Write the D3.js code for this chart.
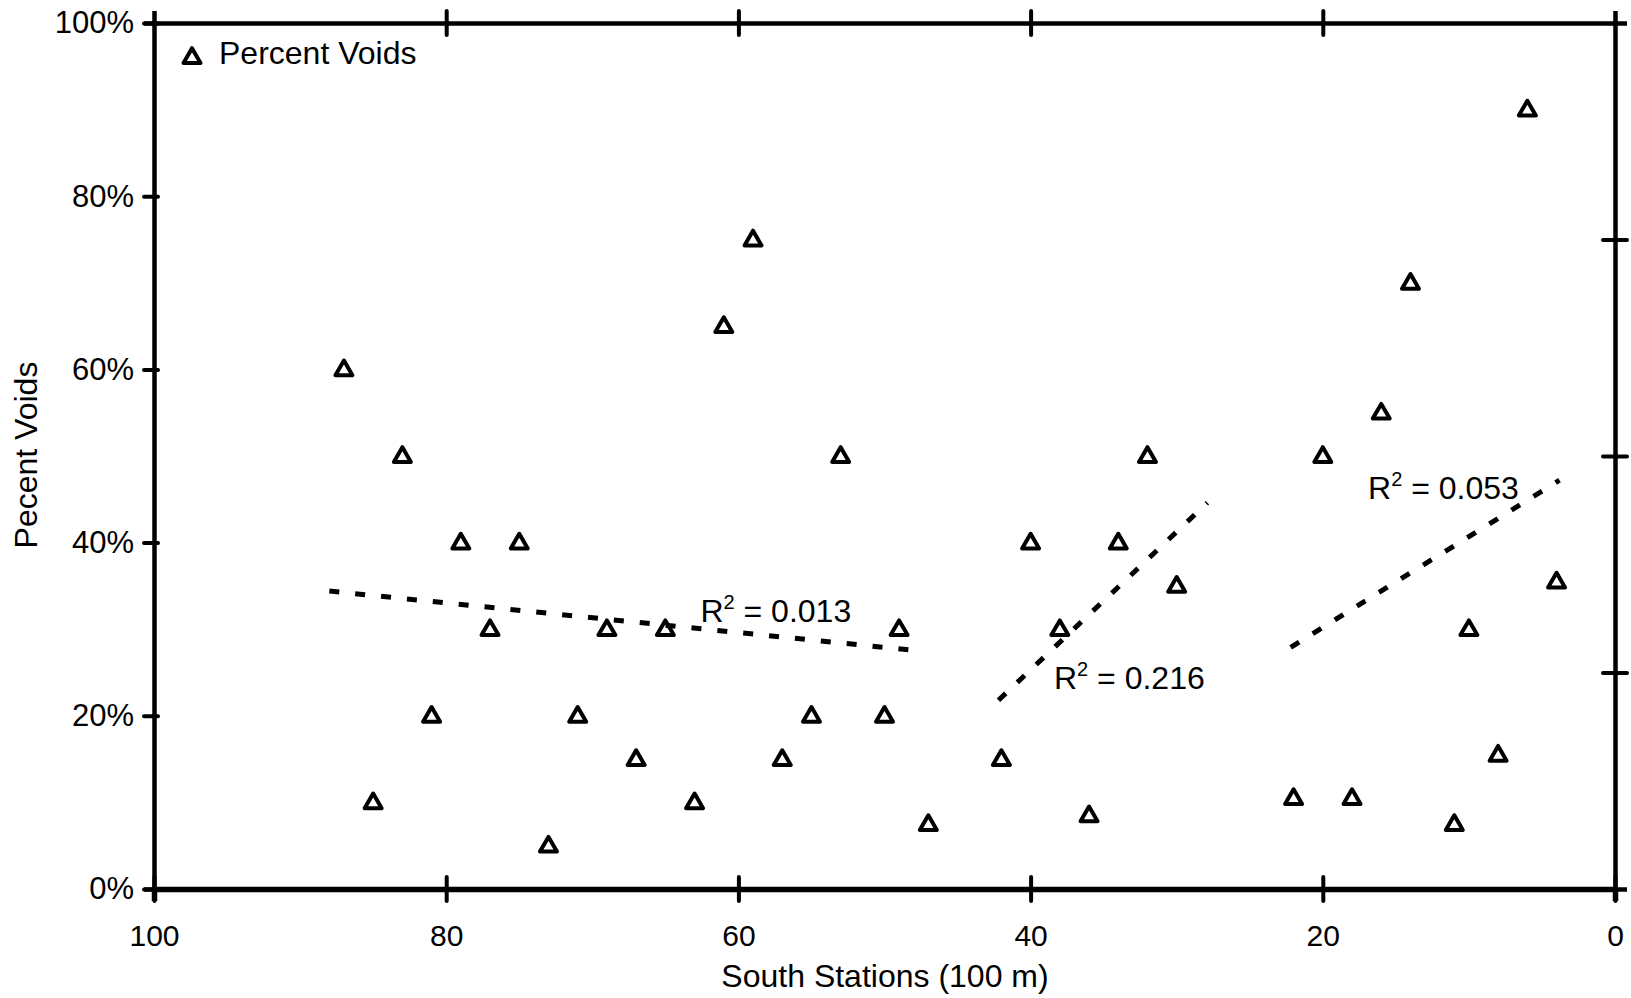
<!DOCTYPE html>
<html>
<head>
<meta charset="utf-8">
<script src="https://d3js.org/d3.v7.min.js"></script>
<style>
  body { margin: 0; background: #fff; }
  text { font-family: "Liberation Sans", Arial, sans-serif; fill: #000; }
</style>
</head>
<body>
<svg id="chart" width="1631" height="998"></svg>
<script>
// stations (100 m) and percent voids
var stations = [87, 85, 83, 81, 79, 77, 75, 73, 71, 69, 67, 65, 63, 61, 59, 57, 55, 53, 50, 49,
                47, 42, 40, 38, 36, 34, 32, 30, 22, 20, 18, 16, 14, 11, 10, 8, 6, 4];
var voids = [0.60, 0.10, 0.50, 0.20, 0.40, 0.30, 0.40, 0.05, 0.20, 0.30, 0.15, 0.30, 0.10, 0.65, 0.75, 0.15, 0.20, 0.50, 0.20, 0.30,
             0.075, 0.15, 0.40, 0.30, 0.085, 0.40, 0.50, 0.35, 0.105, 0.50, 0.105, 0.55, 0.70, 0.075, 0.30, 0.155, 0.90, 0.355];

// three trend segments
var trendX0 = [88.0, 42.2, 22.2];
var trendX1 = [47.7, 27.9, 3.8];
var trendY0 = [0.344, 0.218, 0.279];
var trendY1 = [0.275, 0.446, 0.472];
var trendR2 = ["0.013", "0.216", "0.053"];

var xTicks = [100, 80, 60, 40, 20, 0];
var yTicks = [0, 0.2, 0.4, 0.6, 0.8, 1.0];
var rightTicks = [0.25, 0.5, 0.75];

var svg = d3.select("#chart");

var x = d3.scaleLinear().domain([100, 0]).range([154, 1615]);
var y = d3.scaleLinear().domain([0, 1]).range([889, 23]);

var tk = 12;

// bottom axis
var gx = svg.append("g").attr("transform", "translate(0," + y(0) + ")")
  .call(d3.axisBottom(x).tickValues(xTicks).tickFormat(d3.format("d")).tickSize(tk).tickPadding(24));
gx.select(".domain").attr("stroke-width", 5.5);
gx.selectAll(".tick line").attr("y1", -tk).attr("stroke-width", 4).attr("stroke-linecap", "round");
gx.selectAll(".tick text").style("font-size", "30px").attr("font-family", null);

// top axis
var gt = svg.append("g").attr("transform", "translate(0," + y(1) + ")")
  .call(d3.axisTop(x).tickValues([80, 60, 40, 20]).tickFormat("").tickSize(tk));
gt.select(".domain").attr("stroke-width", 4.5);
gt.selectAll(".tick line").attr("y1", tk).attr("stroke-width", 4).attr("stroke-linecap", "round");

// left axis
var gy = svg.append("g").attr("transform", "translate(" + x(100) + ",0)")
  .call(d3.axisLeft(y).tickValues(yTicks).tickFormat(d3.format(".0%")).tickSize(10).tickPadding(10));
gy.select(".domain").attr("stroke-width", 4.5);
gy.selectAll(".tick line").attr("x1", 4).attr("stroke-width", 4).attr("stroke-linecap", "round");
gy.selectAll(".tick text").style("font-size", "31px").attr("font-family", null);

// right axis
var gr = svg.append("g").attr("transform", "translate(" + x(0) + ",0)")
  .call(d3.axisRight(y).tickValues(rightTicks).tickFormat("").tickSize(tk));
gr.select(".domain").attr("stroke-width", 4.5);
gr.selectAll(".tick line").attr("x1", -tk).attr("stroke-width", 4).attr("stroke-linecap", "round");
svg.selectAll(".domain").attr("stroke", "#000");
svg.selectAll(".tick line").attr("stroke", "#000");

// axis titles
svg.append("text")
  .attr("x", 885).attr("y", 987)
  .attr("text-anchor", "middle")
  .style("font-size", "32px")
  .text("South Stations (100 m)");

svg.append("text")
  .attr("transform", "translate(37,455) rotate(-90)")
  .attr("text-anchor", "middle")
  .style("font-size", "32px")
  .text("Pecent Voids");

// points
var tri = d3.symbol().type(d3.symbolTriangle).size(125);
svg.append("g").selectAll("path")
  .data(stations)
  .enter().append("path")
  .attr("d", tri)
  .attr("transform", function (d, i) { return "translate(" + x(d) + "," + (y(voids[i]) + 1) + ")"; })
  .attr("fill", "#fff")
  .attr("stroke", "#000")
  .attr("stroke-width", 4)
  .attr("stroke-linejoin", "round");

// trend lines
var line = d3.line().x(function (d) { return x(d[0]); }).y(function (d) { return y(d[1]); });
svg.append("g").selectAll("path")
  .data(trendX0)
  .enter().append("path")
  .attr("d", function (d, i) { return line([[trendX0[i], trendY0[i]], [trendX1[i], trendY1[i]]]); })
  .attr("fill", "none")
  .attr("stroke", "#000")
  .attr("stroke-width", 5)
  .attr("stroke-dasharray", "10,16");

// R² labels (anchors in data units)
var labelAt = [[62.6, 0.308], [38.4, 0.231], [16.9, 0.450]];
var lab = svg.append("g").selectAll("text")
  .data(trendR2)
  .enter().append("text")
  .attr("x", function (d, i) { return x(labelAt[i][0]); })
  .attr("y", function (d, i) { return y(labelAt[i][1]); })
  .style("font-size", "32px");
lab.append("tspan").text("R");
lab.append("tspan").attr("dy", -13).style("font-size", "20px").text("2");
lab.append("tspan").attr("dy", 13).text(function (d) { return " = " + d; });

// legend
svg.append("path")
  .attr("d", tri)
  .attr("transform", "translate(192,58)")
  .attr("fill", "#fff")
  .attr("stroke", "#000")
  .attr("stroke-width", 4)
  .attr("stroke-linejoin", "round");
svg.append("text")
  .attr("x", 219).attr("y", 64)
  .style("font-size", "32px")
  .text("Percent Voids");
</script>
</body>
</html>
